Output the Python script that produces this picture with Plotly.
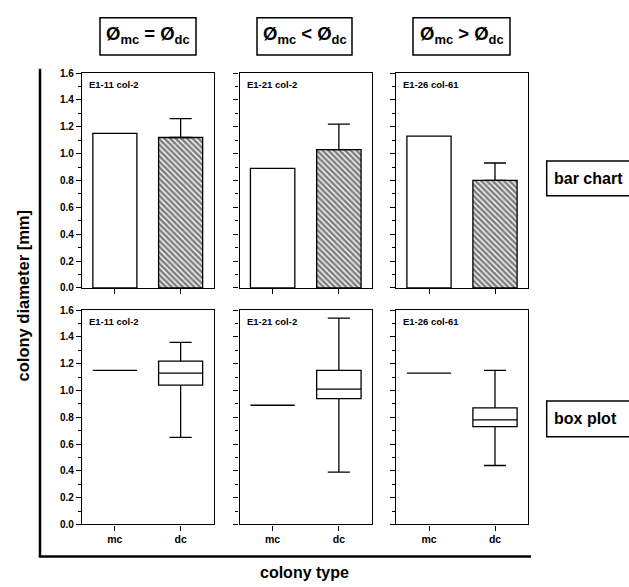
import plotly.graph_objects as go

# ---- data -------------------------------------------------------------
strains = ["E1-11 col-2", "E1-21 col-2", "E1-26 col-61"]
conditions = ["Ø<sub>mc</sub> = Ø<sub>dc</sub>",
              "Ø<sub>mc</sub> &lt; Ø<sub>dc</sub>",
              "Ø<sub>mc</sub> &gt; Ø<sub>dc</sub>"]
colony_types = ["mc", "dc"]

# bar chart: mother colony (single value) and daughter colonies (mean + SD)
mc_diameter = [1.15, 0.89, 1.13]
dc_mean = [1.12, 1.03, 0.80]
dc_sd = [0.14, 0.19, 0.13]

# box plot of daughter colony diameters
dc_min = [0.65, 0.39, 0.44]
dc_q1 = [1.04, 0.94, 0.73]
dc_median = [1.13, 1.01, 0.78]
dc_q3 = [1.22, 1.15, 0.87]
dc_max = [1.36, 1.54, 1.15]

y_ticks = [0.0, 0.2, 0.4, 0.6, 0.8, 1.0, 1.2, 1.4, 1.6]

# ---- layout helpers (pixel -> paper) ---------------------------------
W, H = 629, 587


def px(x):
    return x / W


def py(y):
    return 1 - y / H


col_px = [(82, 213.5), (239.5, 372), (396, 528)]
row_px = [(68.3, 287.3), (310, 528.3)]

FONT = "Liberation Sans, Arial, sans-serif"
BAR_W = 0.67
LW = 1.3

fig = go.Figure()
layout = dict(
    width=W, height=H,
    margin=dict(l=0, r=0, t=0, b=0),
    paper_bgcolor="white", plot_bgcolor="white",
    showlegend=False, hovermode=False,
    font=dict(family=FONT, color="black"),
)
annotations = []
shapes = []

for row in range(2):
    for col in range(3):
        k = row * 3 + col + 1
        xa = "x" if k == 1 else f"x{k}"
        ya = "y" if k == 1 else f"y{k}"
        x0, x1 = col_px[col]
        y0, y1 = row_px[row]

        layout["xaxis" if k == 1 else f"xaxis{k}"] = dict(
            domain=[px(x0), px(x1)], anchor=ya, range=[-0.5, 1.5],
            tickvals=[0, 1], ticktext=colony_types,
            showticklabels=(row == 1),
            tickfont=dict(size=10.5, weight="bold", family=FONT),
            ticks="outside", ticklen=5, tickwidth=1.2, tickcolor="black",
            showline=True, linecolor="black", linewidth=LW, mirror=True,
            showgrid=False, zeroline=False, fixedrange=True,
        )
        layout["yaxis" if k == 1 else f"yaxis{k}"] = dict(
            domain=[py(y1), py(y0)], anchor=xa, range=[0, 1.6],
            tickvals=y_ticks, tickformat=".1f",
            showticklabels=(col == 0),
            tickfont=dict(size=10, weight="bold", family=FONT),
            ticks="outside", ticklen=5, tickwidth=1.2, tickcolor="black",
            minor=dict(dtick=0.1, ticks="outside", ticklen=3,
                       tickwidth=1, tickcolor="black"),
            showline=True, linecolor="black", linewidth=LW, mirror=True,
            showgrid=False, zeroline=False, fixedrange=True,
        )

        if row == 0:
            # mother colony: open bar
            fig.add_trace(go.Bar(
                x=[0], y=[mc_diameter[col]], width=BAR_W,
                marker=dict(color="white", line=dict(color="black", width=LW)),
                xaxis=xa, yaxis=ya,
            ))
            # daughter colonies: hatched bar with upward SD
            fig.add_trace(go.Bar(
                x=[1], y=[dc_mean[col]], width=BAR_W,
                marker=dict(
                    color="white", line=dict(color="black", width=LW),
                    pattern=dict(shape="\\", fgcolor="black", bgcolor="white",
                                 size=4, solidity=0.65, fillmode="overlay"),
                ),
                error_y=dict(type="data", symmetric=False,
                             array=[dc_sd[col]], arrayminus=[0],
                             color="black", thickness=LW, width=11),
                xaxis=xa, yaxis=ya,
            ))
        else:
            # mother colony: single value drawn as a flat box
            v = mc_diameter[col]
            fig.add_trace(go.Box(
                x=[0], q1=[v], median=[v], q3=[v],
                lowerfence=[v], upperfence=[v],
                width=BAR_W, whiskerwidth=0.5, boxpoints=False,
                fillcolor="white", line=dict(color="black", width=LW),
                xaxis=xa, yaxis=ya,
            ))
            fig.add_trace(go.Box(
                x=[1], q1=[dc_q1[col]], median=[dc_median[col]],
                q3=[dc_q3[col]], lowerfence=[dc_min[col]],
                upperfence=[dc_max[col]],
                width=BAR_W, whiskerwidth=0.5, boxpoints=False,
                fillcolor="white", line=dict(color="black", width=LW),
                xaxis=xa, yaxis=ya,
            ))

        # strain label in the upper-left corner of each panel
        annotations.append(dict(
            text=strains[col], xref="paper", yref="paper",
            x=px(x0 + 5), y=py(y0 + 11.5), xanchor="left", yanchor="middle",
            showarrow=False, font=dict(size=9.5, weight="bold", family=FONT),
        ))

# column headers in framed boxes
header_px = [(100, 196), (257, 352), (413, 510)]
for (hx0, hx1), txt in zip(header_px, conditions):
    shapes.append(dict(type="rect", xref="paper", yref="paper",
                       x0=px(hx0), x1=px(hx1), y0=py(50), y1=py(12),
                       line=dict(color="black", width=1.5)))
    annotations.append(dict(
        text=txt, xref="paper", yref="paper",
        x=px((hx0 + hx1) / 2), y=py(30), xanchor="center", yanchor="middle",
        showarrow=False, font=dict(size=18.5, weight="bold", family=FONT),
    ))

# row labels on the right
for label, (ry0, ry1) in [("bar chart", (158, 193.5)), ("box plot", (402.5, 439))]:
    shapes.append(dict(type="rect", xref="paper", yref="paper",
                       x0=px(546.7), x1=px(660), y0=py(ry1), y1=py(ry0),
                       line=dict(color="black", width=1.5)))
    annotations.append(dict(
        text=label, xref="paper", yref="paper",
        x=px(552), y=py((ry0 + ry1) / 2), xanchor="left", yanchor="middle",
        showarrow=False, font=dict(size=16, weight="bold", family=FONT),
    ))

# shared outer axes
shapes.append(dict(type="line", xref="paper", yref="paper",
                   x0=px(40), x1=px(40), y0=py(64), y1=py(561),
                   line=dict(color="black", width=2.5)))
shapes.append(dict(type="line", xref="paper", yref="paper",
                   x0=px(38.8), x1=px(531), y0=py(561), y1=py(561),
                   line=dict(color="black", width=2.5)))

annotations.append(dict(
    text="colony diameter [mm]", xref="paper", yref="paper",
    x=px(23), y=py(296), xanchor="center", yanchor="middle", textangle=-90,
    showarrow=False, font=dict(size=16.5, weight="bold", family=FONT),
))
annotations.append(dict(
    text="colony type", xref="paper", yref="paper",
    x=px(304), y=py(577), xanchor="center", yanchor="middle",
    showarrow=False, font=dict(size=16, weight="bold", family=FONT),
))

layout["annotations"] = annotations
layout["shapes"] = shapes
fig.update_layout(**layout)

fig.write_html("out.html")
